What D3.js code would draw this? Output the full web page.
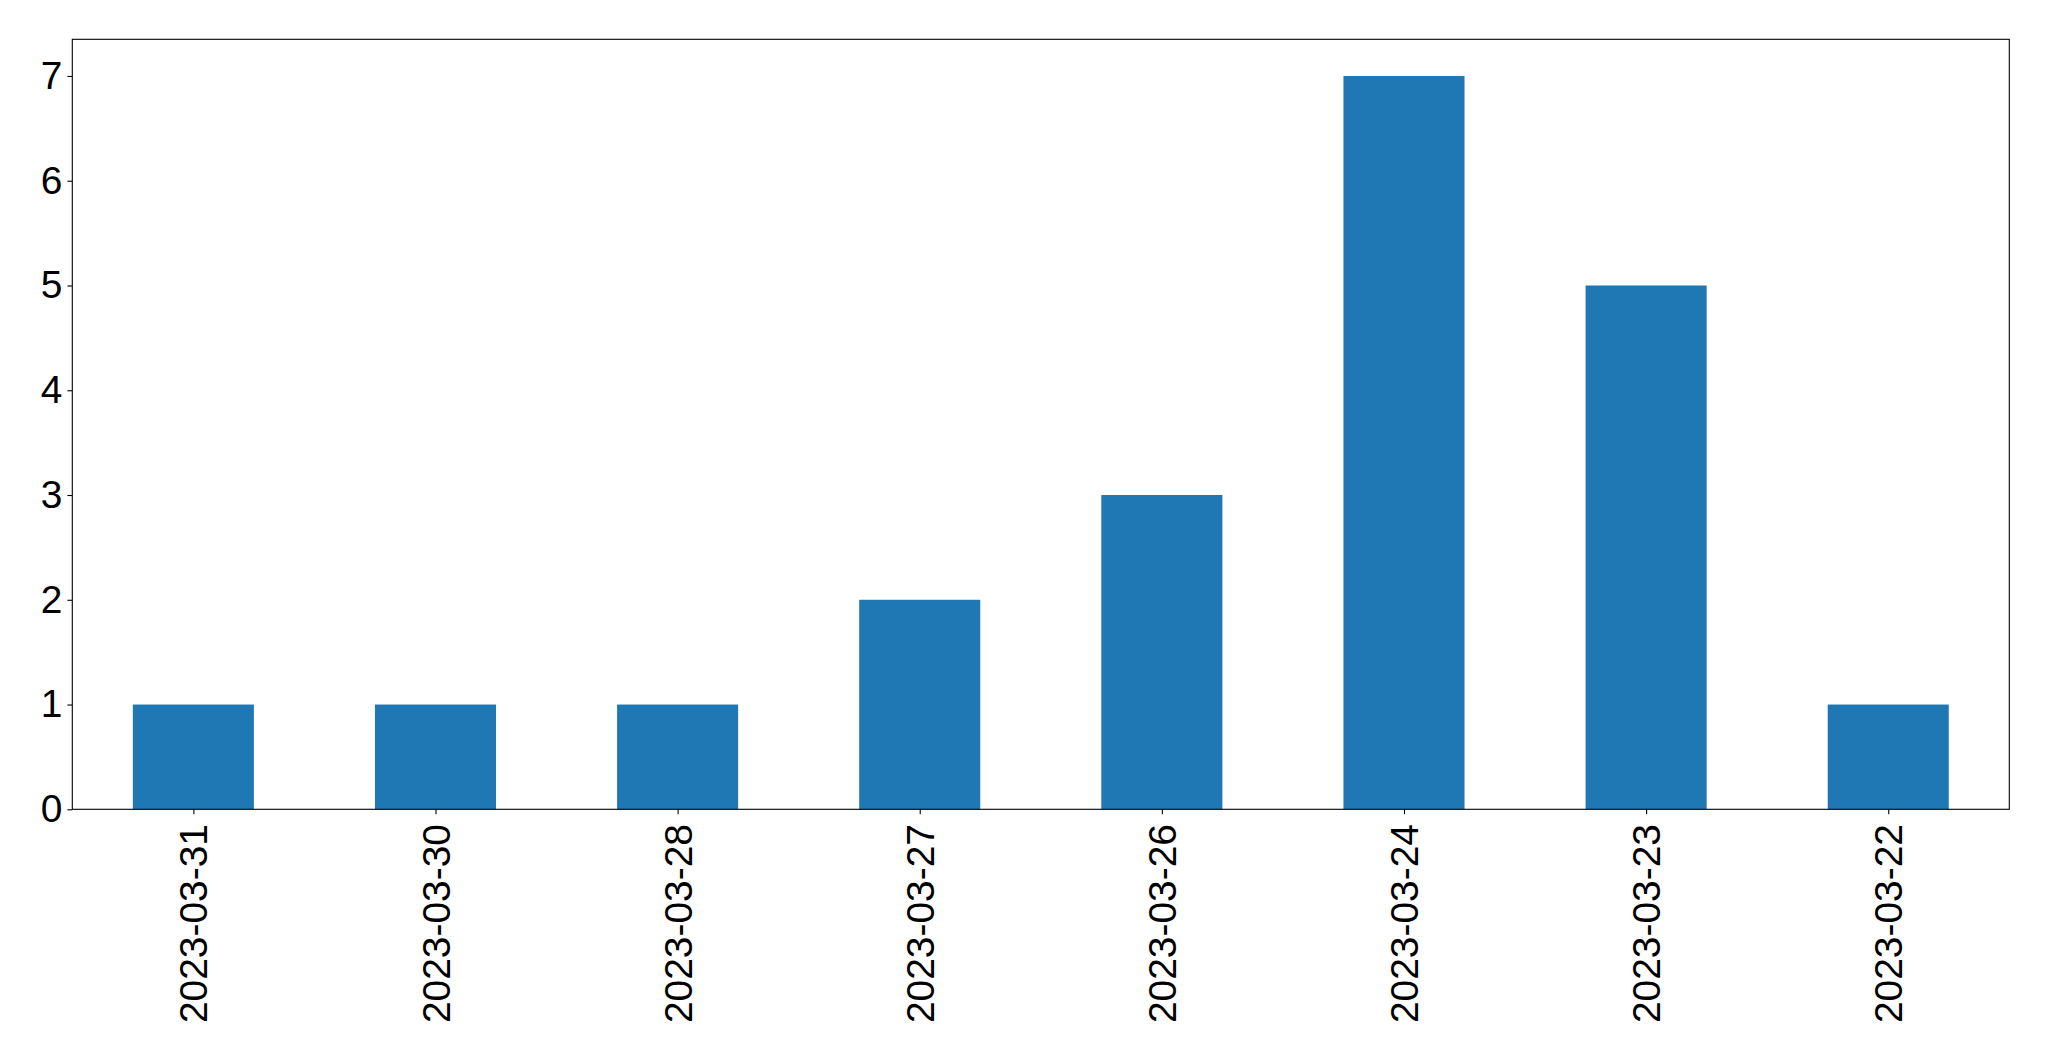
<!DOCTYPE html>
<html>
<head>
<meta charset="utf-8">
<script src="https://cdn.jsdelivr.net/npm/d3@7"></script>
<style>
  html, body { margin: 0; padding: 0; background: #fff; }
  svg { display: block; }
  text { font-family: "Liberation Sans", Arial, sans-serif; fill: #000; }
</style>
</head>
<body>
<svg id="chart" width="2049" height="1061"></svg>
<script>
const categories = ["2023-03-31", "2023-03-30", "2023-03-28", "2023-03-27", "2023-03-26", "2023-03-24", "2023-03-23", "2023-03-22"];
const values = [1, 1, 1, 2, 3, 7, 5, 1];
const yTicks = [0, 1, 2, 3, 4, 5, 6, 7];

const W = 2049, H = 1061;
const margin = { left: 72.3, right: W - 2009.3, top: 39.3, bottom: H - 809.3 };
const svg = d3.select("#chart");
const FS = 38.9;
const FONT = "Liberation Sans";

const x = d3.scaleLinear()
  .domain([-0.5, categories.length - 0.5])
  .range([margin.left, W - margin.right]);
const y = d3.scaleLinear()
  .domain([0, d3.max(values) * 1.05])
  .range([H - margin.bottom, margin.top]);

const barW = 0.5;
svg.append("g").selectAll("rect")
  .data(values)
  .join("rect")
  .attr("x", (d, i) => x(i - barW / 2))
  .attr("width", (d, i) => x(i + barW / 2) - x(i - barW / 2))
  .attr("y", d => y(d))
  .attr("height", d => y(0) - y(d))
  .attr("fill", "#1f77b4");

// y axis
const yAxis = d3.axisLeft(y).tickValues(yTicks).tickFormat(d3.format("d")).tickSize(4.9).tickPadding(4.9);
const gy = svg.append("g").attr("transform", `translate(${margin.left},0)`).call(yAxis);
gy.select(".domain").remove();
gy.selectAll(".tick line").attr("stroke", "#000").attr("stroke-width", 1.1);
gy.selectAll(".tick text").attr("font-size", FS).attr("font-family", FONT);

// x axis
const xAxis = d3.axisBottom(x).tickValues(d3.range(categories.length)).tickFormat(i => categories[i]).tickSize(4.9).tickPadding(0);
const gx = svg.append("g").attr("transform", `translate(0,${H - margin.bottom})`).call(xAxis);
gx.select(".domain").remove();
gx.selectAll(".tick line").attr("stroke", "#000").attr("stroke-width", 1.1);
gx.selectAll(".tick text")
  .attr("font-size", FS)
  .attr("font-family", FONT)
  .attr("transform", "rotate(-90)")
  .attr("x", -14.8)
  .attr("y", 0)
  .attr("dy", "0.35em")
  .attr("text-anchor", "end");

// frame
svg.append("rect")
  .attr("x", margin.left)
  .attr("y", margin.top)
  .attr("width", W - margin.left - margin.right)
  .attr("height", H - margin.top - margin.bottom)
  .attr("fill", "none")
  .attr("stroke", "#000")
  .attr("stroke-width", 1.1);
</script>
</body>
</html>
